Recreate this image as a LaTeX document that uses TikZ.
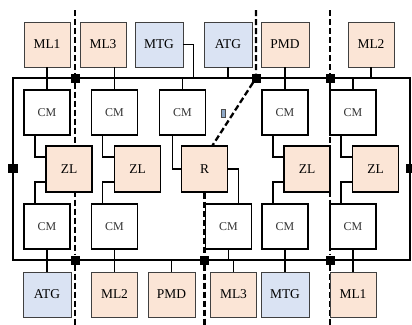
\documentclass[tikz,border=0pt]{standalone}
\usepackage{fontspec}
\setmainfont{Liberation Serif}
\usetikzlibrary{backgrounds}
\definecolor{mlpeach}{HTML}{FBE5D6}
\definecolor{tgblue}{HTML}{DAE3F3}
\definecolor{markblue}{HTML}{8FA9C8}

\begin{document}
\begin{tikzpicture}[x=1bp, y=-1bp,
    dev/.style={draw=black!75, line width=0.8pt, rectangle, minimum width=46bp, minimum height=45bp, inner sep=0pt, font=\fontsize{13.5}{15}\selectfont},
    ml/.style={dev, fill=mlpeach},
    tg/.style={dev, fill=tgblue, minimum width=48bp},
    cmbox/.style={draw, line width=1.1pt, rectangle, fill=white, minimum width=46bp, minimum height=45bp, inner sep=0pt, text=black!80, font=\fontsize{12}{14}\selectfont},
    zonebox/.style={draw, line width=1.1pt, rectangle, fill=mlpeach, minimum width=46bp, minimum height=46bp, inner sep=0pt, font=\fontsize{13.5}{15}\selectfont},
    breaker/.style={fill=black, rectangle, minimum size=9bp, inner sep=0pt},
    link/.style={line width=1.3pt},
    cutline/.style={line width=2.3pt, dash pattern=on 6bp off 3bp}
]
    \useasboundingbox (0,0) rectangle (412,325);

    % Top row
    \node[ml] (ml1t) at (47,44.5) {ML1};
    \node[ml] (ml3t) at (103,44.5) {ML3};
    \node[tg] (mtgt) at (159,44.5) {MTG};
    \node[tg] (atgt) at (228,44.5) {ATG};
    \node[ml, minimum width=48bp] (pmdt) at (285,44.5) {PMD};
    \node[ml] (ml2t) at (371,44.5) {ML2};

    % Bottom row
    \node[tg] (atgb) at (47,294.5) {ATG};
    \node[ml] (ml2b) at (114.5,294.5) {ML2};
    \node[ml, minimum width=47bp] (pmdb) at (171.5,294.5) {PMD};
    \node[ml] (ml3b) at (233.5,294.5) {ML3};
    \node[tg] (mtgb) at (285,294.5) {MTG};
    \node[ml] (ml1b) at (353,294.5) {ML1};

    % CM upper
    \node[cmbox] (cm1a) at (47,112.5) {CM};
    \node[cmbox] (cm2a) at (114.5,112.5) {CM};
    \node[cmbox] (cm3a) at (182.5,112.5) {CM};
    \node[cmbox] (cm4a) at (285,112.5) {CM};
    \node[cmbox] (cm5a) at (353,112.5) {CM};

    % CM lower
    \node[cmbox] (cm1b) at (47,226.5) {CM};
    \node[cmbox] (cm2b) at (114.5,226.5) {CM};
    \node[cmbox] (cm3b) at (228.5,226.5) {CM};
    \node[cmbox] (cm4b) at (285,226.5) {CM};
    \node[cmbox] (cm5b) at (353,226.5) {CM};

    % Zones
    \node[zonebox] (zl1) at (69,169) {ZL};
    \node[zonebox] (zl2) at (137.5,169) {ZL};
    \node[zonebox] (r) at (204.5,169) {R};
    \node[zonebox] (zl4) at (307,169) {ZL};
    \node[zonebox] (zl5) at (375.5,169) {ZL};

    % Bus
    \coordinate (busnw) at (13,78);
    \coordinate (busse) at (410,260);
    \draw[link] (busnw) rectangle (busse);

    % Breakers
    \node[breaker] (sqa) at (75,78) {};
    \node[breaker] (sqb) at (75,260) {};
    \node[breaker] (sqc) at (256,78) {};
    \node[breaker] (sqd) at (204.5,260) {};
    \node[breaker] (sqe) at (330,78) {};
    \node[breaker] (sqf) at (330,260) {};
    \node[breaker] (sqg) at (13,168) {};
    \node[breaker] (sqh) at (410,168) {};

    \node[draw=black!70, fill=markblue, line width=0.5pt, minimum width=4bp, minimum height=8bp, inner sep=0pt] (mark) at (223,113) {};

    % Links to bus
    \draw[link] (ml1t) -- (cm1a);
    \draw[link] (ml3t.south -| cm2a) -- (cm2a);
    \draw[link] (mtgt.east) -- ++(10,0) coordinate (mtgbend) -- (mtgbend |- busnw);
    \draw[link] (cm3a) -- (cm3a |- busnw);
    \draw[link] (atgt) -- (atgt |- busnw);
    \draw[link] (pmdt) -- (cm4a);
    \draw[link] (ml2t) -- (ml2t |- busnw);
    \draw[link] (cm5a) -- (cm5a |- busnw);

    \draw[link] (cm1b) -- (atgb);
    \draw[link] (cm2b) -- (ml2b);
    \draw[link] (pmdb) -- (pmdb |- busse);
    \draw[link] (cm3b) -- (cm3b |- busse);
    \draw[link] (ml3b) -- (ml3b |- busse);
    \draw[link] (cm4b) -- (mtgb);
    \draw[link] (cm5b) -- (ml1b);

    % CM to zones
    \draw[link] ([xshift=-12bp]cm1a.south) |- ([yshift=12bp]zl1.west);
    \draw[link] ([yshift=-13bp]zl1.west) -| ([xshift=-12bp]cm1b.north);
    \draw[link] ([xshift=-12bp]cm2a.south) |- ([yshift=12bp]zl2.west);
    \draw[link] ([yshift=-13bp]zl2.west) -| ([xshift=-12bp]cm2b.north);
    \draw[link] ([xshift=-10bp]cm3a.south) |- (r.west);
    \draw[link] (r.east) -| ([xshift=10bp]cm3b.north);
    \draw[link] ([xshift=-12bp]cm4a.south) |- ([yshift=12bp]zl4.west);
    \draw[link] ([yshift=-13bp]zl4.west) -| ([xshift=-12bp]cm4b.north);
    \draw[link] ([xshift=-12bp]cm5a.south) |- ([yshift=12bp]zl5.west);
    \draw[link] ([yshift=-13bp]zl5.west) -| ([xshift=-12bp]cm5b.north);

    % Cut lines
    \begin{scope}[on background layer]
        \coordinate (cuta) at (75,10);
        \coordinate (cutb) at (75,325);
        \coordinate (cutc) at (256,10);
        \coordinate (cutd) at (204.5,325);
        \coordinate (cute) at (330,10);
        \coordinate (cutf) at (330,325);
        \draw[cutline] (cuta) -- (sqa) -- (sqb) -- (cutb);
        \draw[cutline] (cutc) -- (sqc) -- ([xshift=8bp]r.north);
        \draw[cutline] (r.south) -- (sqd) -- (cutd);
        \draw[cutline] (cute) -- (sqe) -- (sqf) -- (cutf);
    \end{scope}

\end{tikzpicture}
\end{document}
